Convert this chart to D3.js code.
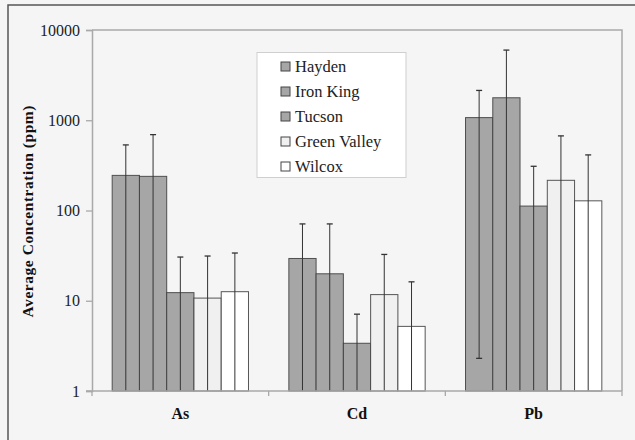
<!DOCTYPE html>
<html><head><meta charset="utf-8">
<script src="https://cdn.jsdelivr.net/npm/d3@7"></script>
<style>body{margin:0;background:#f5f5f5}svg{display:block}text{font-family:'Liberation Serif','Times New Roman',serif}</style>
</head><body><svg id="c" width="635" height="440"></svg>
<script>
const categories = ["As", "Cd", "Pb"];
const series = ["Hayden", "Iron King", "Tucson", "Green Valley", "Wilcox"];
const seriesColors = ["#a6a6a6", "#a6a6a6", "#a6a6a6", "#f0f0f0", "#ffffff"];
// values[series][category]
const hayden = [245, 29.4, 1070];
const ironKing = [239, 19.9, 1775];
const tucson = [12.3, 3.38, 112];
const greenValley = [10.7, 11.7, 216];
const wilcox = [12.6, 5.2, 128];
const values = [hayden, ironKing, tucson, greenValley, wilcox];
// upper error bar ends
const haydenHi = [533, 71, 2140];
const ironKingHi = [693, 71, 5990];
const tucsonHi = [30.5, 7.1, 309];
const greenValleyHi = [31.3, 32.6, 671];
const wilcoxHi = [33.8, 16.2, 413];
const errHi = [haydenHi, ironKingHi, tucsonHi, greenValleyHi, wilcoxHi];
// lower error bar ends (null = below axis minimum)
const haydenLo = [null, null, 2.3];
const ironKingLo = [null, null, null];
const tucsonLo = [null, null, null];
const greenValleyLo = [null, null, null];
const wilcoxLo = [null, null, null];
const errLo = [haydenLo, ironKingLo, tucsonLo, greenValleyLo, wilcoxLo];
const yTicks = [1, 10, 100, 1000, 10000];

const FONT = "'Liberation Serif', 'Times New Roman', serif";
const svg = d3.select("#c");
const m = {l: 92, r: 622, t: 30, b: 391};
svg.append("rect").attr("x", 8).attr("y", 5).attr("width", 700).attr("height", 500)
  .attr("fill", "#f5f5f5").attr("stroke", "#555").attr("stroke-width", 1.5);

const x = d3.scaleBand().domain(categories).range([m.l, m.r]).paddingInner(0).paddingOuter(0);
const xs = d3.scaleBand().domain(series).range([0, x.bandwidth()]).paddingInner(0).paddingOuter(0.74);
const y = d3.scaleLog().domain([1, 10000]).range([m.b, m.t]);

// plot border (top & right)
svg.append("path").attr("d", `M${m.l},${m.t}H${m.r}V${m.b}`).attr("fill", "none")
  .attr("stroke", "#a9a9a9").attr("stroke-width", 1.5);

// bars
const g = svg.append("g");
series.forEach((s, si) => {
  categories.forEach((c, ci) => {
    const x0 = x(c) + xs(s);
    g.append("rect").attr("x", x0).attr("y", y(values[si][ci]))
      .attr("width", xs.bandwidth()).attr("height", m.b - y(values[si][ci]))
      .attr("fill", seriesColors[si]).attr("stroke", "#3a3a3a").attr("stroke-width", 1).attr("stroke-opacity", 0.85);
  });
});
// error bars
series.forEach((s, si) => {
  categories.forEach((c, ci) => {
    const cx = x(c) + xs(s) + xs.bandwidth() / 2;
    const hi = y(errHi[si][ci]);
    const lo = errLo[si][ci] == null ? m.b : y(errLo[si][ci]);
    g.append("line").attr("x1", cx).attr("x2", cx).attr("y1", hi).attr("y2", lo)
      .attr("stroke", "#333").attr("stroke-width", 1);
    g.append("line").attr("x1", cx - 3).attr("x2", cx + 3).attr("y1", hi).attr("y2", hi)
      .attr("stroke", "#333").attr("stroke-width", 1.3);
    if (errLo[si][ci] != null)
      g.append("line").attr("x1", cx - 3).attr("x2", cx + 3).attr("y1", lo).attr("y2", lo)
        .attr("stroke", "#333").attr("stroke-width", 1.3);
  });
});

// y axis
const ya = svg.append("g").attr("transform", `translate(${m.l},0)`)
  .call(d3.axisLeft(y).tickValues(yTicks).tickFormat(d3.format("d")).tickSize(6).tickPadding(6));
ya.attr("font-family", null);
ya.select(".domain").attr("stroke", "#a9a9a9").attr("stroke-width", 1.5);
ya.selectAll(".tick line").attr("stroke", "#a9a9a9").attr("stroke-width", 1.3);
ya.selectAll(".tick text").style("font-family", FONT)
  .attr("font-size", 16).attr("fill", "#222");

// x axis
const xa = svg.append("g").attr("transform", `translate(0,${m.b})`)
  .call(d3.axisBottom(x).tickSize(0).tickPadding(17));
xa.attr("font-family", null);
xa.select(".domain").remove();
svg.append("line").attr("x1", m.l - 6).attr("x2", m.r).attr("y1", m.b).attr("y2", m.b)
  .attr("stroke", "#a9a9a9").attr("stroke-width", 1.5);
const bounds = [x.range()[0], ...categories.map(c => x(c) + x.bandwidth())];
bounds.forEach(b => svg.append("line").attr("x1", b).attr("x2", b).attr("y1", m.b).attr("y2", m.b + 5)
  .attr("stroke", "#a9a9a9").attr("stroke-width", 1.3));
xa.selectAll(".tick text").style("font-family", FONT)
  .attr("font-size", 16).attr("font-weight", "bold").attr("fill", "#111");

// y title
svg.append("text").attr("transform", `translate(33,211.5) rotate(-90)`)
  .attr("text-anchor", "middle").style("font-family", FONT)
  .attr("font-size", 15.5).attr("font-weight", "bold").attr("fill", "#111")
  .attr("textLength", 212).attr("lengthAdjust", "spacing")
  .text("Average Concentration (ppm)");

// legend
const lg = svg.append("g");
lg.append("rect").attr("x", 257).attr("y", 52.5).attr("width", 149).attr("height", 125)
  .attr("fill", "#fff").attr("stroke", "#cfcfcf").attr("stroke-width", 1);
series.forEach((s, i) => {
  const cy = 66.5 + i * 25;
  lg.append("rect").attr("x", 281).attr("y", cy - 4.5).attr("width", 9).attr("height", 9)
    .attr("fill", seriesColors[i]).attr("stroke", "#444").attr("stroke-width", 1);
  lg.append("text").attr("x", 295).attr("y", cy + 5.5).style("font-family", FONT)
    .attr("font-size", 16.5).attr("fill", "#222").text(s);
});
</script></body></html>
